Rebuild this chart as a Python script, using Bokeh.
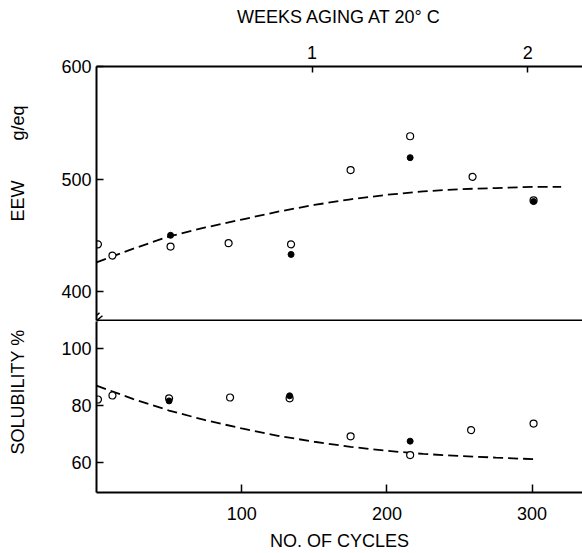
from bokeh.plotting import figure
from bokeh.models import LinearAxis, Range1d, FixedTicker, Arrow
from bokeh.layouts import column
from bokeh.embed import file_html
from bokeh.resources import INLINE

# ---- data ----
cycles_open_eew = [1, 11, 51, 91, 134, 175, 216, 259, 301]
eew_open = [442, 432, 440, 443, 442, 508, 538, 502, 481]
cycles_filled_eew = [51, 134, 216, 301]
eew_filled = [450, 433, 519, 480]
curve_eew_x = [0, 25, 50, 75, 100, 125, 150, 175, 200, 225, 250, 275, 300, 320]
curve_eew_y = [426, 438, 449, 457, 464, 471, 477, 482, 486, 489, 491, 492, 493, 493]

cycles_open_sol = [1, 11, 50, 92, 133, 175, 216, 258, 301]
sol_open = [82.1, 83.5, 82.5, 82.8, 82.5, 69.1, 62.5, 71.3, 73.6]
cycles_filled_sol = [50, 133, 216]
sol_filled = [81.6, 83.4, 67.4]
curve_sol_x = [0, 25, 50, 75, 100, 125, 150, 175, 200, 225, 250, 275, 303]
curve_sol_y = [87, 82.3, 78.2, 74.8, 71.9, 69.3, 67.2, 65.4, 64.0, 62.9, 62.2, 61.6, 61.0]

eew_ticks = [400, 500, 600]
sol_ticks = [60, 80, 100]
cycle_ticks = [100, 200, 300]
week_ticks = [1, 2]
cycles_per_week = 148.5

X_END = 334.7
FONT = "Liberation Sans"
TICK_FS = "18px"
LABEL_FS = "18px"
NB = "\u00a0"


def style_axis(ax, ticks, tick_in):
    ax.ticker = FixedTicker(ticks=ticks)
    ax.major_tick_in = tick_in
    ax.major_tick_out = 0
    ax.minor_tick_in = 0
    ax.minor_tick_out = 0
    ax.axis_line_width = 2
    ax.axis_line_color = "black"
    ax.major_tick_line_width = 1.5
    ax.major_tick_line_color = "black"
    ax.major_label_text_font = FONT
    ax.major_label_text_font_size = TICK_FS
    ax.major_label_text_color = "black"
    ax.axis_label_text_font = FONT
    ax.axis_label_text_font_size = LABEL_FS
    ax.axis_label_text_font_style = "normal"
    ax.axis_label_text_color = "black"


x_range = Range1d(0, X_END)

# ---- top panel (EEW) ----
p1 = figure(width=582, height=321, x_range=x_range, y_range=Range1d(374.3, 600),
            output_backend="svg", toolbar_location=None,
            x_axis_location=None, y_axis_location="left",
            min_border_left=96, min_border_right=0, min_border_top=66, min_border_bottom=1)
p1.grid.visible = False
p1.outline_line_color = None

ya = p1.yaxis[0]
style_axis(ya, eew_ticks, 7)
ya.major_label_standoff = 5
ya.axis_label = NB * 12 + "EEW" + NB * 8 + "g/eq"
ya.axis_label_standoff = 30

p1.extra_x_ranges = {"weeks": Range1d(0, X_END / cycles_per_week)}
top_ax = LinearAxis(x_range_name="weeks")
style_axis(top_ax, week_ticks, 6)
top_ax.major_label_standoff = 8
top_ax.axis_label = "WEEKS AGING AT 20° C"
top_ax.axis_label_standoff = 16
p1.add_layout(top_ax, "above")

bot_line = LinearAxis()
style_axis(bot_line, [], 0)
bot_line.major_label_standoff = 0
bot_line.major_label_text_font_size = "0px"
p1.add_layout(bot_line, "below")

p1.line(curve_eew_x, curve_eew_y, line_color="black", line_width=1.8, line_dash="10 5")
p1.scatter(cycles_open_eew, eew_open, size=7, fill_color="white", line_color="black", line_width=1.2)
p1.scatter(cycles_filled_eew, eew_filled, size=6, fill_color="black", line_color="black")

# axis break marks (visible part)
for xs, ys, xe, ye in [(-6.2, 372.3, 2.1, 381.1), (-4.1, 369.6, 4.1, 378.5)]:
    p1.add_layout(Arrow(start=None, end=None, x_start=xs, y_start=ys, x_end=xe, y_end=ye,
                        line_color="black", line_width=1.5))

# ---- bottom panel (solubility) ----
p2 = figure(width=582, height=232, x_range=x_range, y_range=Range1d(49.3, 109.6),
            output_backend="svg", toolbar_location=None,
            x_axis_location="below", y_axis_location="left",
            min_border_left=96, min_border_right=0, min_border_top=0, min_border_bottom=61)
p2.grid.visible = False
p2.outline_line_color = None

ya2 = p2.yaxis[0]
style_axis(ya2, sol_ticks, 7)
ya2.major_label_standoff = 5
ya2.axis_label = NB * 6 + "SOLUBILITY %"
ya2.axis_label_standoff = 30

xa = p2.xaxis[0]
style_axis(xa, cycle_ticks, 8)
xa.major_label_standoff = 14
xa.axis_label = "NO. OF CYCLES"
xa.axis_label_standoff = 8

p2.line(curve_sol_x, curve_sol_y, line_color="black", line_width=1.8, line_dash="10 5")
p2.scatter(cycles_open_sol, sol_open, size=7, fill_color="white", line_color="black", line_width=1.2)
p2.scatter(cycles_filled_sol, sol_filled, size=6, fill_color="black", line_color="black")

for xs, ys, xe, ye in [(-6.2, 108.8, 2.1, 112.3), (-4.1, 107.7, 4.1, 111.25)]:
    p2.add_layout(Arrow(start=None, end=None, x_start=xs, y_start=ys, x_end=xe, y_end=ye,
                        line_color="black", line_width=1.5))

layout = column(p1, p2, spacing=0)
open("out.html", "w").write(file_html(layout, INLINE))
